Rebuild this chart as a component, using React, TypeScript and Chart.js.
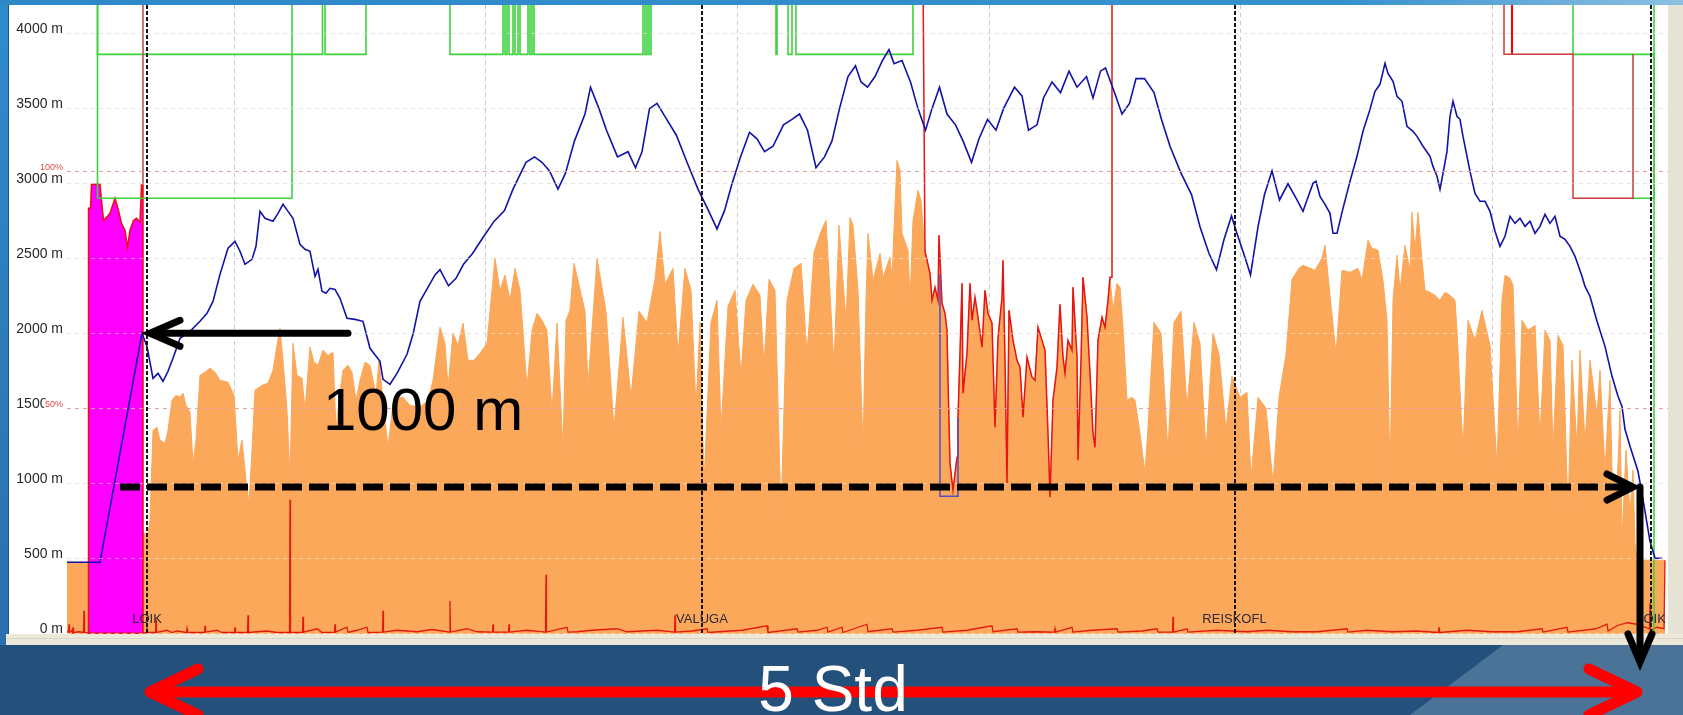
import React, { useEffect, useRef } from 'react';
import { Chart, registerables } from 'chart.js';

Chart.register(...registerables);

const W = 1683;
const H = 715;

// ---------- data (time in minutes, altitude in metres) ----------
const TOP = 4400; // off-chart level used by the airspace traces
const LEVEL_A = 3860;
const LEVEL_B = 2900;

const altTicks = [0, 500, 1000, 1500, 2000, 2500, 3000, 3500, 4000];
const timeGrid = [33.4, 83.7, 134.0, 184.4, 234.7, 285.1];
const waypointNames = ['LOIK', 'VALUGA', 'REISKOFL', 'LOIK'];
const waypointTimes = [16.0, 127.0, 233.5, 316.8];
const percentLabels = ['100%', '50%'];
const percentLevels = [3080, 1500];

const gpsAltitude = [
  [0, 473], [6.6, 473], [15.0, 2000], [16.0, 1913], [17.2, 1700], [18.2, 1733], [19.2, 1680], [20.2, 1747], [21.2, 1833], [22.6, 1967],
  [24.6, 2013], [26.6, 2080], [28.0, 2133], [29.2, 2213], [30.6, 2393], [32.2, 2567], [33.6, 2613], [34.6, 2547], [35.6, 2460], [37.0, 2493],
  [37.8, 2580], [38.6, 2813], [39.6, 2767], [41.2, 2747], [42.2, 2800], [43.2, 2860], [44.2, 2813], [45.2, 2767], [46.6, 2593], [47.6, 2560],
  [48.6, 2547], [49.6, 2380], [50.2, 2427], [51.0, 2280], [51.8, 2267], [52.6, 2300], [53.6, 2293], [54.6, 2233], [56.0, 2100], [57.6, 2093],
  [59.2, 2080], [60.6, 1900], [62.6, 1813], [63.2, 1693], [64.6, 1660], [66.0, 1733], [68.0, 1860], [69.2, 1993], [70.6, 2213], [73.6, 2389],
  [74.6, 2424], [76.3, 2317], [77.8, 2367], [79.3, 2460], [81.1, 2532], [83.2, 2639], [85.4, 2746], [87.5, 2818], [89.2, 2961], [91.8, 3140],
  [93.5, 3176], [95.0, 3140], [96.5, 3083], [98.2, 2961], [99.7, 3068], [101.5, 3283], [103.6, 3462], [104.7, 3641], [106.4, 3498], [107.9, 3354],
  [110.1, 3176], [112.2, 3211], [113.7, 3104], [115.0, 3211], [116.5, 3498], [118.0, 3533], [119.7, 3440], [121.9, 3319], [124.0, 3140], [126.2, 2961],
  [128.3, 2818], [130.0, 2696], [131.5, 2818], [133.0, 2997], [134.7, 3176], [136.5, 3340], [138.0, 3297], [139.5, 3211], [141.2, 3247], [143.3, 3390],
  [145.0, 3426], [146.5, 3462], [148.1, 3354], [149.8, 3104], [151.5, 3176], [153.0, 3283], [154.5, 3498], [156.2, 3712], [157.7, 3784], [158.8, 3676],
  [160.1, 3641], [161.6, 3712], [163.1, 3819], [164.4, 3891], [165.4, 3798], [167.0, 3819], [168.7, 3676], [170.2, 3498], [171.7, 3354], [173.0, 3498],
  [174.5, 3641], [176.0, 3462], [177.7, 3390], [179.2, 3283], [180.9, 3140], [182.4, 3297], [184.1, 3426], [185.8, 3354], [187.3, 3498], [189.5, 3641],
  [191.0, 3583], [192.3, 3354], [194.0, 3390], [195.3, 3569], [197.0, 3676], [198.7, 3605], [200.4, 3748], [202.0, 3641], [203.9, 3712], [205.2, 3569],
  [206.7, 3748], [207.7, 3769], [209.5, 3605], [211.0, 3462], [212.5, 3533], [213.8, 3698], [215.5, 3698], [217.4, 3605], [218.9, 3426], [220.6, 3247],
  [222.8, 3068], [224.9, 2925], [226.6, 2710], [228.4, 2532], [229.9, 2424], [231.4, 2625], [232.9, 2782], [233.9, 2675], [235.7, 2496], [236.7, 2389],
  [238.2, 2710], [239.5, 2925], [241.0, 3083], [242.5, 2889], [244.2, 2997], [246.0, 2889], [247.2, 2813], [249.2, 3000], [249.8, 3013], [250.6, 2913],
  [251.6, 2860], [252.6, 2800], [253.2, 2667], [254.0, 2667], [255.2, 2833], [256.6, 3013], [258.0, 3180], [259.2, 3347], [260.6, 3493], [261.6, 3613],
  [262.6, 3660], [263.6, 3800], [264.2, 3733], [265.2, 3680], [266.0, 3580], [267.0, 3547], [268.0, 3380], [269.2, 3347], [270.0, 3313], [271.2, 3247],
  [272.6, 3180], [273.2, 3113], [274.0, 3047], [274.6, 2960], [275.2, 3067], [276.0, 3213], [276.6, 3447], [277.2, 3547], [278.0, 3447], [278.6, 3427],
  [279.2, 3313], [280.0, 3180], [280.6, 3080], [281.6, 2933], [282.6, 2880], [283.6, 2880], [284.6, 2813], [285.6, 2680], [286.6, 2580], [287.6, 2647],
  [288.6, 2780], [289.6, 2733], [290.6, 2767], [291.6, 2713], [292.6, 2747], [293.6, 2667], [294.6, 2713], [295.6, 2793], [296.6, 2733], [297.6, 2780],
  [298.6, 2647], [299.6, 2627], [300.6, 2580], [301.6, 2513], [303.0, 2380], [303.6, 2313], [304.6, 2247], [306.0, 2080], [307.6, 1913], [309.0, 1713],
  [310.2, 1580], [311.0, 1513], [311.6, 1360], [312.6, 1247], [314.2, 1080], [314.8, 967], [315.6, 813], [316.6, 613], [317.2, 547], [317.6, 500],
  [319.0, 500],
];

const terrainFirst = [
  [0, 473], [4.2, 473], [15.2, 667], [16.2, 667], [16.6, 753], [17.2, 1353], [18, 1373], [18.6, 1287], [19.6, 1267], [20.2, 1353],
  [21, 1553], [21.8, 1587], [22.6, 1573], [23.2, 1600], [23.8, 1520], [24.6, 1473], [25.2, 1133], [25.8, 1287], [26.6, 1720], [27.6, 1740],
  [28.6, 1767], [29.6, 1740], [30.6, 1687], [32.2, 1673], [33.4, 1587], [34.2, 1153], [35, 1287], [35.8, 1020], [36.4, 867], [37, 1220],
  [37.6, 1620], [39, 1653], [40.2, 1667], [41.2, 1753], [42, 1920], [42.6, 2033], [43.2, 1820], [44, 1487], [44.6, 1040], [45.2, 1933],
  [46, 1720], [47, 1700], [47.6, 1487], [48.6, 1907], [49.4, 1807], [50.2, 1787], [51.2, 1887], [52.2, 1853], [53.2, 1873], [53.8, 1353],
  [54.4, 1553], [55.2, 1753], [56.2, 1787], [57, 1740], [57.8, 1553], [58.6, 1687], [59.6, 1807], [60.6, 1787], [61.8, 1587], [62.4, 1820],
  [63.2, 1553], [64.2, 1240], [65.2, 1533], [66.2, 1567], [67.2, 1573], [68.6, 1520], [70.6, 1507], [72.2, 1553], [73.2, 1687], [74.6, 2040],
  [75.6, 1933], [76.2, 1640], [77.2, 2000], [78.2, 1920], [79.2, 2067], [80.2, 1820], [81.4, 1820], [82.6, 1867], [84, 1933], [85.6, 2500],
  [86.6, 2287], [87.6, 2387], [88.6, 2220], [89.6, 2433], [90.6, 2287], [92, 1640], [93, 2020], [94, 2133], [95, 2087], [96, 2020],
  [97, 1467], [98, 2067], [99.2, 1220], [99.8, 2087], [100.6, 2153], [101.4, 2467], [103.6, 2147], [104.2, 1647], [106, 2500], [107.8, 2147],
  [109.4, 1360], [111.2, 2107], [112.8, 1573], [114.4, 2147], [116, 2073], [117.6, 2360], [118.6, 2680], [119.6, 2327], [121.2, 2433], [122.2, 1860],
  [123.6, 2433], [124.8, 2287], [125.8, 1500], [126.6, 2073], [127.4, 1000], [128.8, 2073], [130, 2220], [130.8, 1360], [132.2, 2180], [133.6, 2287],
  [134.8, 1713], [135.8, 2220], [137.2, 2327], [138.6, 2253], [139.4, 1787], [140.4, 2360], [141.6, 2287], [142.8, 787], [144, 2220], [145.4, 2433],
  [146.8, 2467], [148, 1860], [149.4, 2540], [150.8, 2680], [151.8, 2753], [153.4, 1787], [154.4, 2720], [155.8, 2073], [156.6, 2773], [157.2, 2720],
  [158.2, 2287], [159.2, 1233], [159.8, 2220], [160.2, 2667], [161.2, 2353], [162.6, 2533], [163.2, 2373], [164.6, 2507], [165, 2373], [166, 3153],
  [166.6, 3087], [167, 2667], [168.2, 2553], [168.6, 2220], [169.2, 2753], [170.2, 2953], [170.8, 2887],
];

const terrainRedPart = [
  [171.6, 2547], [172.6, 2400], [173, 2220], [173.6, 2307], [174.2, 2220], [174.4, 2653], [175, 2200], [175.6, 2133], [176, 2020], [176.2, 1687],
  [176.6, 1133], [177.2, 953], [178, 1173], [178.2, 1440], [178.6, 1867], [179, 2333], [179.2, 1600], [180, 1867], [180.6, 2333], [181, 2087],
  [181.6, 2240], [182.2, 2107], [183, 1907], [183.6, 2287], [184.2, 2133], [185, 2067], [185.6, 1373], [186.2, 1967], [187, 2240], [187.2, 2487],
  [187.6, 1820], [188, 1000], [188.4, 2153], [189.2, 1953], [190, 1820], [190.6, 1773], [191.2, 1440], [192, 1840], [193, 1707], [193.6, 1687],
  [194.2, 2040], [195, 1953], [195.6, 1887], [196.2, 1333], [196.6, 907], [197.2, 1553], [198, 1773], [198.6, 2193], [199.2, 1840], [199.6, 1733],
  [200.2, 1953], [201, 1887], [201.2, 2307], [202, 1840], [202.2, 1153], [202.8, 1820], [203.2, 2373], [204, 2107], [204.6, 1733], [205.2, 1333],
  [205.6, 1240], [206.2, 1953], [207, 2107], [207.6, 2040], [208.2, 2220], [208.6, 2373],
];

const terrainLast = [
  [209.2, 2153], [210, 2333], [210.6, 2307], [211.2, 2040], [212, 1553], [213, 1573], [213.6, 1553], [214.6, 1333], [215.6, 1067], [216.2, 1373],
  [217.4, 2073], [218.8, 2000], [220.2, 1213], [221.4, 2073], [222.8, 2147], [224, 1500], [225.4, 2073], [226.6, 1933], [227.8, 1213], [229.2, 2000],
  [230.4, 1860], [231.8, 1360], [233, 1713], [234.6, 1573], [236, 1607], [236.8, 1033], [238.2, 1573], [239.8, 1500], [241.2, 1000], [242.4, 1573],
  [243.8, 1860], [245, 2360], [246.4, 2433], [247.2, 2453], [249.6, 2420], [251, 2500], [251.6, 2587], [252.6, 2253], [253.8, 1860], [255, 2420],
  [256.6, 2407], [258.2, 2433], [259, 2353], [260.2, 2620], [261, 2567], [262.2, 2553], [263.2, 2353], [264, 2087], [264.6, 1053], [265.2, 2220],
  [266, 2520], [266.6, 2287], [267.6, 2587], [268.6, 2420], [269, 2807], [269.6, 2553], [270.2, 2807], [271, 2487], [271.6, 2287], [272.6, 2273],
  [273.6, 2253], [274.6, 2220], [275.6, 2273], [276.6, 2253], [277.6, 2220], [278, 2020], [279.2, 1220], [280.2, 2087], [281.6, 1953], [283, 2153],
  [284.6, 1920], [286, 1107], [287, 2220], [287.6, 2387], [288.6, 2367], [289.2, 2320], [290.2, 1220], [291, 2087], [292.2, 2020], [293.6, 2053],
  [294.6, 1307], [295.6, 2020], [296.6, 1953], [297.2, 1220], [298.2, 1987], [299.2, 1920], [300.2, 800], [301, 1820], [302, 1233], [302.6, 1887],
  [303.6, 1267], [304.6, 1820], [306, 1453], [306.6, 1753], [307.6, 1087], [308.6, 1687], [309, 1087], [310, 953], [310.6, 1487], [311, 620],
  [311.8, 1220], [312.6, 800], [313.2, 1087], [313.6, 600], [314, 487], [319.6, 487],
];

const motorRun = [
  [4.3, 0], [4.3, 2833], [4.7, 2833], [4.9, 2993], [6.6, 2993], [6.9, 2887], [7.3, 2753], [7.9, 2773], [8.6, 2800], [9.6, 2900],
  [10.3, 2820], [10.9, 2733], [11.6, 2687], [12.1, 2573], [12.6, 2687], [13.3, 2753], [13.9, 2767], [14.6, 2740], [14.9, 2993], [15.1, 2887],
  [15.2, 2993], [15.2, 0],
];

const engineNoise = [
  [0, 10], [0.3, 10], [0.4, 60], [0.5, 5], [1.0, 20], [1.1, 5], [1.2, 40], [1.3, 5], [2.5, 10], [3.3, 5], [3.4, 150], [3.5, 5], [4.3, 0],
  [15.2, 0], [15.9, 5], [16.0, 30], [16.1, 5], [17.7, 5], [17.8, 90], [17.9, 5], [20, 20], [21, 5], [22, 15], [23.9, 5], [24, 30], [24.1, 5],
  [27.5, 5], [27.6, 50], [27.7, 8], [30, 20], [31, 5], [33.5, 5], [33.6, 40], [33.7, 5], [36.1, 5], [36.2, 120], [36.3, 5], [40, 15], [42, 5],
  [44.5, 5], [44.6, 890], [44.7, 5], [47.1, 5], [47.2, 110], [47.3, 8], [50, 30], [51, 5], [53.5, 8], [53.6, 60], [53.7, 8], [56, 40], [56.2, 5],
  [58, 20], [60, 40], [60.2, 5], [63.1, 8], [63.2, 150], [63.3, 8], [66, 20], [70, 10], [73, 25], [76.5, 8], [76.6, 215], [76.7, 8], [80, 30],
  [82, 10], [85.1, 8], [85.2, 60], [85.3, 8], [88.3, 8], [88.4, 60], [88.5, 8], [92, 20], [95.7, 8], [95.8, 390], [95.9, 8], [100, 40], [100.2, 8],
  [102, 10], [105, 20], [110, 30], [112, 10], [118, 20], [121.5, 8], [121.6, 120], [121.7, 8], [125, 15], [128, 30], [128.2, 5], [135, 20],
  [140, 50], [140.2, 5], [146, 30], [146.2, 8], [150, 20], [152, 40], [152.2, 8], [155, 40], [155.2, 5], [160, 60], [160.2, 10], [165, 30],
  [165.2, 8], [170, 20], [175, 40], [175.2, 8], [180, 20], [185, 50], [185.2, 10], [190, 30], [190.2, 8], [194, 10], [197.5, 8], [197.6, 30],
  [197.7, 8], [201, 40], [201.2, 8], [205, 20], [210, 30], [210.2, 8], [215, 15], [218, 30], [218.2, 8], [221.1, 8], [221.2, 110], [221.3, 8],
  [224, 30], [224.2, 8], [230, 20], [236, 10], [240, 20], [245, 10], [250, 10], [256, 30], [256.2, 8], [260, 20], [265, 10], [270, 15],
  [274.3, 5], [274.4, 40], [274.5, 5], [280, 20], [285, 10], [290, 10], [295, 30], [295.2, 8], [300, 40], [300.2, 8], [305.8, 30], [308, 60],
  [308.2, 15], [310, 50], [312, 70], [314, 60], [316.5, 30], [316.6, 200], [316.7, 20], [318, 40], [319.4, 30], [319.6, 487],
];

const airspaceUpper = [
  [6.1, TOP], [6.1, LEVEL_A], [51.1, LEVEL_A], [51.1, TOP], [51.6, TOP], [51.6, LEVEL_A], [59.8, LEVEL_A], [59.8, TOP],
  [76.6, TOP], [76.6, LEVEL_A], [87.2, LEVEL_A], [87.2, TOP], [87.6, TOP], [87.6, LEVEL_A], [88.0, LEVEL_A], [88.0, TOP],
  [88.4, TOP], [88.4, LEVEL_A], [89.2, LEVEL_A], [89.2, TOP], [89.6, TOP], [89.6, LEVEL_A], [90.2, LEVEL_A], [90.2, TOP],
  [90.6, TOP], [90.6, LEVEL_A], [92.2, LEVEL_A], [92.2, TOP], [92.6, TOP], [92.6, LEVEL_A], [93.0, LEVEL_A], [93.0, TOP],
  [93.4, TOP], [93.4, LEVEL_A], [115.2, LEVEL_A], [115.2, TOP], [115.6, TOP], [115.6, LEVEL_A], [116.0, LEVEL_A], [116.0, TOP],
  [116.4, TOP], [116.4, LEVEL_A], [116.8, LEVEL_A], [116.8, TOP],
  [141.8, TOP], [141.8, LEVEL_A], [142.0, LEVEL_A], [142.0, TOP], [144.2, TOP], [144.2, LEVEL_A], [145.0, LEVEL_A], [145.0, TOP],
  [145.8, TOP], [145.8, LEVEL_A], [169.2, LEVEL_A], [169.2, TOP],
  [301.2, TOP], [301.2, LEVEL_A], [317.4, LEVEL_A], [317.4, 0],
];

const airspaceLower = [
  [6.1, TOP], [6.1, LEVEL_B], [45.0, LEVEL_B], [45.0, TOP], [46.0, null],
  [313.2, LEVEL_B], [317.4, LEVEL_B], [317.4, TOP],
];

const airspaceViolation = [
  [287.4, TOP], [287.4, LEVEL_A], [301.2, LEVEL_A], [301.2, LEVEL_B], [313.2, LEVEL_B], [313.2, LEVEL_A],
];
const airspaceViolation2 = [[289.0, TOP], [289.0, LEVEL_A]];
const engineStartMark = [[15.2, TOP], [15.2, 2993]];
const terrainRedStart = 171.2;
const terrainRedEnd = 209.0;
const boxTrace = [[174.6, 2393], [174.6, 913], [178.2, 913], [178.2, 1433]];

// annotation values (time / altitude)
const arrowLeft = { from: 56.2, to: 16.6, alt: 2000 };
const labelHeight = { text: '1000 m', t: 51.2, alt: 1355 };
const dashedArrow = { from: 10.6, to: 313.2, alt: 975 };
const downArrow = { t: 314.6 };
const spanArrow = { from: 16.6, to: 314.0, text: '5 Std', textT: 153.2 };

const pts = (arr: (number | null)[][]) => arr.map(([x, y]) => ({ x: x as number, y: y as any }));

const FONT = '"Liberation Sans", Arial, Helvetica, sans-serif';

function vHead(ctx: CanvasRenderingContext2D, tx: number, ty: number, dx: number, dy: number, len: number, half: number) {
  const bx = tx - dx * len;
  const by = ty - dy * len;
  const px = -dy;
  const py = dx;
  ctx.beginPath();
  ctx.moveTo(bx + px * half, by + py * half);
  ctx.lineTo(tx, ty);
  ctx.lineTo(bx - px * half, by - py * half);
  ctx.stroke();
}

export default function App() {
  const ref = useRef<HTMLCanvasElement>(null);

  useEffect(() => {
    const canvas = ref.current;
    if (!canvas) return;

    const background = {
      id: 'slideBackground',
      beforeDraw(chart: any) {
        const { ctx, chartArea: a } = chart;
        const winBottom = a.bottom + 11;
        ctx.save();
        ctx.fillStyle = '#24507C';
        ctx.fillRect(0, 0, W, H);
        ctx.fillStyle = '#4B7297';
        ctx.beginPath();
        ctx.moveTo(1503, winBottom);
        ctx.lineTo(W, winBottom);
        ctx.lineTo(W, H);
        ctx.lineTo(1410, H);
        ctx.closePath();
        ctx.fill();
        const g = ctx.createLinearGradient(0, 0, W, 0);
        g.addColorStop(0, '#2E87C7');
        g.addColorStop(0.8, '#3691CE');
        g.addColorStop(1, '#8DC0E2');
        ctx.fillStyle = g;
        ctx.fillRect(0, 0, W, a.top);
        const gl = ctx.createLinearGradient(0, 0, 0, winBottom);
        gl.addColorStop(0, '#2F8CCB');
        gl.addColorStop(1, '#2A6FAE');
        ctx.fillStyle = gl;
        ctx.fillRect(0, a.top, 8, winBottom - a.top);
        ctx.fillStyle = '#ECE9DA';
        ctx.fillRect(6, a.bottom, W - 6, winBottom - a.bottom);
        ctx.fillStyle = '#D9D5C6';
        ctx.fillRect(6, a.bottom + 4, W - 6, 1);
        ctx.fillStyle = '#E7E3D4';
        ctx.fillRect(a.right, a.top, W - a.right, a.bottom - a.top);
        ctx.fillStyle = '#FFFFFF';
        ctx.fillRect(9, a.top, a.right - 9, a.bottom - a.top);
        ctx.restore();
      },
    };

    const overlay = {
      id: 'overlay',
      afterDatasetsDraw(chart: any) {
        const { ctx, chartArea: a } = chart;
        const xs = chart.scales.x;
        const ys = chart.scales.y;
        ctx.save();
        ctx.beginPath();
        ctx.rect(a.left, a.top, a.right - a.left, a.bottom - a.top);
        ctx.clip();
        ctx.lineWidth = 1;
        ctx.setLineDash([4, 4]);
        ctx.strokeStyle = 'rgba(255,255,255,0.5)';
        altTicks.forEach((v) => {
          const py = Math.round(ys.getPixelForValue(v)) + 0.5;
          ctx.beginPath();
          ctx.moveTo(a.left, py);
          ctx.lineTo(a.right, py);
          ctx.stroke();
        });
        ctx.strokeStyle = '#E9A0A0';
        percentLevels.forEach((v) => {
          const py = Math.round(ys.getPixelForValue(v)) + 0.5;
          ctx.beginPath();
          ctx.moveTo(a.left, py);
          ctx.lineTo(a.right, py);
          ctx.stroke();
        });
        ctx.setLineDash([4, 2]);
        ctx.lineWidth = 2;
        ctx.strokeStyle = '#161616';
        waypointTimes.forEach((t) => {
          const px = Math.round(xs.getPixelForValue(t));
          ctx.beginPath();
          ctx.moveTo(px, a.top);
          ctx.lineTo(px, a.bottom);
          ctx.stroke();
        });
        ctx.restore();

        ctx.save();
        ctx.font = `13px ${FONT}`;
        ctx.fillStyle = '#2E2838';
        ctx.textAlign = 'center';
        ctx.textBaseline = 'middle';
        waypointNames.forEach((n, i) => {
          ctx.fillText(n, xs.getPixelForValue(waypointTimes[i]), a.bottom - 15);
        });
        ctx.font = `9px ${FONT}`;
        ctx.textAlign = 'right';
        ctx.textBaseline = 'alphabetic';
        percentLabels.forEach((lab, i) => {
          const py = ys.getPixelForValue(percentLevels[i]);
          if (i === 1) {
            ctx.fillStyle = '#FFFFFF';
            ctx.fillRect(44, py - 9, a.left - 45, 14);
          }
          ctx.fillStyle = '#E04A4A';
          ctx.fillText(lab, a.left - 4, py - 1);
        });
        ctx.restore();
      },
      afterDraw(chart: any) {
        const { ctx, chartArea: a } = chart;
        const xs = chart.scales.x;
        const ys = chart.scales.y;
        ctx.save();
        ctx.strokeStyle = '#000';
        ctx.lineWidth = 7;
        ctx.lineCap = 'round';
        ctx.lineJoin = 'miter';
        const ay = ys.getPixelForValue(arrowLeft.alt);
        const ax1 = xs.getPixelForValue(arrowLeft.from);
        const ax2 = xs.getPixelForValue(arrowLeft.to);
        ctx.beginPath();
        ctx.moveTo(ax1, ay);
        ctx.lineTo(ax2 + 3, ay);
        ctx.stroke();
        vHead(ctx, ax2, ay, -1, 0, 30, 13);

        ctx.fillStyle = '#000';
        ctx.font = `60px ${FONT}`;
        ctx.textAlign = 'left';
        ctx.textBaseline = 'alphabetic';
        ctx.fillText(labelHeight.text, xs.getPixelForValue(labelHeight.t), ys.getPixelForValue(labelHeight.alt));

        const dy = ys.getPixelForValue(dashedArrow.alt);
        const dx1 = xs.getPixelForValue(dashedArrow.from);
        const dx2 = xs.getPixelForValue(dashedArrow.to);
        ctx.lineCap = 'butt';
        ctx.setLineDash([20, 7]);
        ctx.beginPath();
        ctx.moveTo(dx1, dy);
        ctx.lineTo(dx2 - 6, dy);
        ctx.stroke();
        ctx.setLineDash([]);
        ctx.lineCap = 'round';
        vHead(ctx, dx2, dy, 1, 0, 26, 13);

        const vx = xs.getPixelForValue(downArrow.t);
        const vBottom = a.bottom + 28;
        ctx.beginPath();
        ctx.moveTo(vx, dy);
        ctx.lineTo(vx, vBottom - 3);
        ctx.stroke();
        vHead(ctx, vx, vBottom, 0, 1, 28, 12);

        const ry = a.bottom + 58;
        const rx1 = xs.getPixelForValue(spanArrow.from);
        const rx2 = xs.getPixelForValue(spanArrow.to);
        ctx.strokeStyle = '#FF0000';
        ctx.lineWidth = 11;
        ctx.lineCap = 'round';
        ctx.lineJoin = 'round';
        ctx.beginPath();
        ctx.moveTo(rx1 + 4, ry);
        ctx.lineTo(rx2 - 4, ry);
        ctx.stroke();
        vHead(ctx, rx1, ry, -1, 0, 48, 23);
        vHead(ctx, rx2, ry, 1, 0, 48, 23);

        ctx.fillStyle = '#FFFFFF';
        ctx.font = `64px ${FONT}`;
        ctx.textAlign = 'center';
        ctx.fillText(spanArrow.text, xs.getPixelForValue(spanArrow.textT), a.bottom + 77);
        ctx.restore();
      },
    };

    const redMid = [
      { x: terrainRedStart, y: TOP },
      ...pts(terrainRedPart),
      { x: terrainRedEnd, y: terrainRedPart[terrainRedPart.length - 1][1] },
      { x: terrainRedEnd, y: TOP },
    ];

    const gridOpts = { color: '#C6C6C6', lineWidth: 1, drawTicks: false, borderDash: [4, 4] } as any;

    const chart = new Chart(canvas, {
      type: 'line',
      data: {
        datasets: [
          { label: 'GPS altitude', data: pts(gpsAltitude), borderColor: '#1212A6', borderWidth: 1.6, fill: false, order: 0 },
          { label: 'box', data: pts(boxTrace), borderColor: '#4E4EC4', borderWidth: 1.5, fill: false, order: 1 },
          { label: 'engine start', data: pts(engineStartMark), borderColor: '#B84C4C', borderWidth: 1.5, fill: false, order: 2 },
          { label: 'airspace violation', data: pts(airspaceViolation), borderColor: '#CC3A3A', borderWidth: 1.5, fill: false, order: 3 },
          { label: 'airspace violation 2', data: pts(airspaceViolation2), borderColor: '#FF0000', borderWidth: 2, fill: false, order: 3 },
          { label: 'airspace upper', data: pts(airspaceUpper), borderColor: '#3ED23E', borderWidth: 1.6, fill: false, order: 4 },
          { label: 'airspace lower', data: pts(airspaceLower), borderColor: '#3ED23E', borderWidth: 1.6, fill: false, spanGaps: false, order: 4 },
          { label: 'terrain warning', data: redMid, borderColor: '#E81414', borderWidth: 1.5, fill: false, order: 5 },
          { label: 'engine noise', data: pts(engineNoise), borderColor: '#E21A10', borderWidth: 1.3, fill: false, order: 6 },
          { label: 'motor run', data: pts(motorRun), borderColor: '#E81010', borderWidth: 1.5, backgroundColor: '#FF00FF', fill: 'start', order: 7 },
          {
            label: 'terrain',
            data: pts([...terrainFirst, ...terrainRedPart, ...terrainLast]),
            borderColor: '#FBA75A',
            borderWidth: 1,
            backgroundColor: '#FBA85B',
            fill: 'start',
            order: 8,
          },
        ] as any,
      },
      options: {
        animation: false,
        responsive: false,
        maintainAspectRatio: false,
        devicePixelRatio: 1,
        events: [],
        layout: { padding: { left: 10, right: 15, top: 5, bottom: 0 } },
        elements: { point: { radius: 0 }, line: { tension: 0 } },
        plugins: { legend: { display: false }, tooltip: { enabled: false } },
        scales: {
          x: {
            type: 'linear',
            min: 0,
            max: 320.2,
            afterBuildTicks: (s: any) => {
              s.ticks = timeGrid.map((v) => ({ value: v }));
            },
            afterFit: (s: any) => {
              s.height = 81;
              s.paddingLeft = 0;
              s.paddingRight = 0;
            },
            ticks: { display: false },
            grid: gridOpts,
            border: { display: false, dash: [4, 4] },
          },
          y: {
            type: 'linear',
            min: -5,
            max: 4189,
            afterBuildTicks: (s: any) => {
              s.ticks = altTicks.map((v) => ({ value: v }));
            },
            afterFit: (s: any) => {
              s.width = 57;
              s.paddingTop = 0;
              s.paddingBottom = 0;
            },
            ticks: {
              callback: (v: any) => `${v} m`,
              font: { family: FONT, size: 14 },
              color: '#262626',
              padding: 4,
              labelOffset: -4,
            },
            grid: gridOpts,
            border: { display: false, dash: [4, 4] },
          },
        },
      } as any,
      plugins: [background, overlay],
    });

    return () => chart.destroy();
  }, []);

  return (
    <div style={{ position: 'fixed', left: 0, top: 0, width: W, height: H, overflow: 'hidden' }}>
      <canvas ref={ref} width={W} height={H} style={{ display: 'block', width: W, height: H }} />
    </div>
  );
}
